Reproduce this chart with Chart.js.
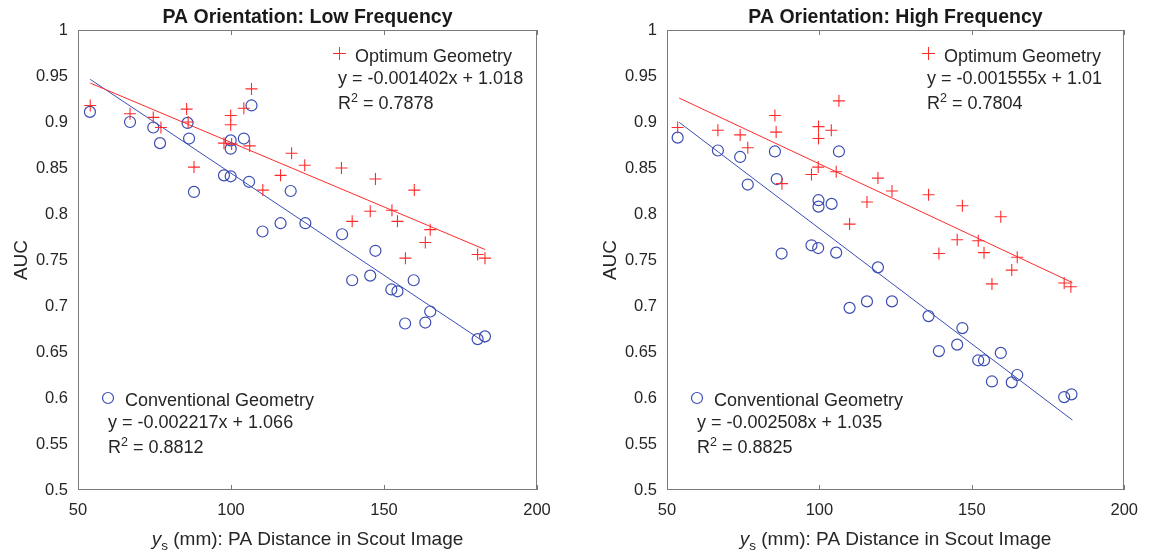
<!DOCTYPE html>
<html><head><meta charset="utf-8">
<script src="https://cdn.jsdelivr.net/npm/chart.js@4.4.0/dist/chart.umd.min.js"></script>
<style>
html,body{margin:0;padding:0;background:#fff;overflow:hidden;width:1149px;height:557px}
canvas{position:absolute;top:0}
#cl{left:0}
#cr{left:575px}
</style>
</head><body>
<canvas id="cl" width="575" height="557" style="width:575px;height:557px"></canvas>
<canvas id="cr" width="574" height="557" style="width:574px;height:557px"></canvas>
<script>
// ---------- data ----------
const xTicks = [50, 100, 150, 200];
const xTickLabels = ['50', '100', '150', '200'];
const yTicks = [0.5, 0.55, 0.6, 0.65, 0.7, 0.75, 0.8, 0.85, 0.9, 0.95, 1];
const yTickLabels = ['0.5', '0.55', '0.6', '0.65', '0.7', '0.75', '0.8', '0.85', '0.9', '0.95', '1'];

// Low frequency – Optimum geometry (+)
const lowOptX = [54, 67, 74.6, 77.1, 85.5, 86, 87.9, 97.7, 99.9, 99.9, 100.2, 104.2, 106.1, 106.7, 110.4, 116.2, 119.8, 124.1, 136.1, 139.6, 145.5, 147.2, 152.6, 154.4, 157, 159.9, 163.5, 165.1, 180.6, 183];
const lowOptY = [0.918, 0.909, 0.905, 0.894, 0.914, 0.900, 0.851, 0.877, 0.907, 0.897, 0.876, 0.915, 0.874, 0.936, 0.826, 0.842, 0.866, 0.853, 0.850, 0.792, 0.803, 0.838, 0.804, 0.792, 0.752, 0.826, 0.769, 0.783, 0.756, 0.752];
// Low frequency – Conventional geometry (o)
const lowConvX = [53.9, 67.0, 74.6, 76.8, 85.8, 86.3, 87.9, 97.7, 99.9, 99.9, 99.9, 104.2, 106.7, 105.9, 110.3, 116.2, 119.5, 124.3, 136.3, 147.2, 139.6, 145.5, 152.4, 154.4, 159.7, 165.1, 156.9, 163.5, 180.6, 183];
const lowConvY = [0.911, 0.900, 0.894, 0.877, 0.899, 0.882, 0.824, 0.842, 0.841, 0.880, 0.871, 0.882, 0.918, 0.835, 0.781, 0.790, 0.825, 0.790, 0.778, 0.760, 0.728, 0.733, 0.718, 0.716, 0.728, 0.694, 0.681, 0.682, 0.664, 0.667];
// Low frequency – fitted lines (end points of the printed equations)
const lowOptFitX = [54, 183];
const lowOptFitY = [0.9423, 0.7614];
const lowConvFitX = [54, 183];
const lowConvFitY = [0.9463, 0.6603];

// High frequency – Optimum geometry (+)
const highOptX = [53.5, 66.7, 74.0, 76.5, 85.4, 85.8, 87.7, 97.4, 99.6, 99.7, 99.7, 103.9, 106.4, 105.5, 109.9, 115.6, 119.2, 123.8, 135.8, 146.9, 159.5, 139.2, 145.2, 152.1, 154.0, 156.6, 164.9, 163.1, 180.3, 182.5];
const highOptY = [0.894, 0.891, 0.886, 0.872, 0.907, 0.889, 0.833, 0.843, 0.851, 0.895, 0.882, 0.891, 0.923, 0.846, 0.789, 0.813, 0.839, 0.825, 0.821, 0.809, 0.797, 0.757, 0.772, 0.771, 0.758, 0.724, 0.753, 0.739, 0.725, 0.721];
// High frequency – Conventional geometry (o)
const highConvX = [53.5, 66.7, 74.0, 76.5, 85.4, 86.0, 99.7, 99.7, 104.0, 106.4, 87.6, 97.4, 99.6, 105.5, 109.9, 115.6, 119.2, 123.8, 135.8, 139.2, 145.2, 146.9, 152.1, 154.0, 159.5, 156.6, 164.9, 163.1, 180.3, 182.7];
const highConvY = [0.883, 0.869, 0.862, 0.832, 0.868, 0.838, 0.815, 0.808, 0.811, 0.868, 0.757, 0.766, 0.763, 0.758, 0.698, 0.705, 0.742, 0.705, 0.689, 0.651, 0.658, 0.676, 0.641, 0.641, 0.649, 0.618, 0.625, 0.617, 0.601, 0.604];
const highOptFitX = [54, 183];
const highOptFitY = [0.9260, 0.7254];
const highConvFitX = [54, 183];
const highConvFitY = [0.8996, 0.5760];

// ---------- styling ----------
const FONT = '"Liberation Sans", Arial, Helvetica, sans-serif';
const RED = '#ff2b2b';
const BLUE = '#3b4db3';
const TXT = '#262626';
const AXIS = '#7a7a7a';

function zip(xs, ys) { return xs.map((x, i) => ({ x: x, y: ys[i] })); }

const decor = {
  id: 'decor',
  afterDraw(chart, args, o) {
    const ctx = chart.ctx, a = chart.chartArea, xs = chart.scales.x;
    ctx.save();
    const L = Math.round(a.left), T = Math.round(a.top), R = Math.round(a.right), B = Math.round(a.bottom);
    // box
    ctx.strokeStyle = AXIS; ctx.lineWidth = 1;
    ctx.strokeRect(L + 0.5, T + 0.5, R - L - 1, B - T - 1);
    // inward x ticks, top and bottom
    ctx.beginPath();
    xTicks.forEach(v => {
      const px = Math.round(xs.getPixelForValue(v)) + 0.5;
      ctx.moveTo(px, B); ctx.lineTo(px, B - 5);
      ctx.moveTo(px, T); ctx.lineTo(px, T + 5);
    });
    ctx.stroke();

    const cx = (L + R) / 2;
    // title
    ctx.fillStyle = '#1a1a1a';
    ctx.font = 'bold 19.5px ' + FONT;
    ctx.textAlign = 'center'; ctx.textBaseline = 'alphabetic';
    ctx.fillText(o.title, cx, 23);

    // y axis title
    ctx.fillStyle = TXT;
    ctx.save();
    ctx.translate(L - 56, (T + B) / 2);
    ctx.rotate(-Math.PI / 2);
    ctx.font = '19px ' + FONT;
    ctx.textAlign = 'center'; ctx.textBaseline = 'middle';
    ctx.fillText('AUC', 0, 0);
    ctx.restore();

    // x axis title: italic y, subscript s, rest
    ctx.textAlign = 'left'; ctx.textBaseline = 'alphabetic';
    const fMain = '19px ' + FONT, fIt = 'italic 19px ' + FONT, fSub = '13.5px ' + FONT;
    const rest = ' (mm): PA Distance in Scout Image';
    ctx.font = fIt; const wy = ctx.measureText('y').width;
    ctx.font = fSub; const ws = ctx.measureText('s').width;
    ctx.font = fMain; const wr = ctx.measureText(rest).width;
    let sx = cx - (wy + ws + wr) / 2;
    const by = 545;
    ctx.font = fIt; ctx.fillText('y', sx, by); sx += wy;
    ctx.font = fSub; ctx.fillText('s', sx, by + 5); sx += ws;
    ctx.font = fMain; ctx.fillText(rest, sx, by);

    // annotations
    function rsq(x, y, val) {
      ctx.font = '18px ' + FONT; ctx.fillStyle = TXT;
      ctx.fillText('R', x, y);
      const w = ctx.measureText('R').width;
      ctx.font = '12.5px ' + FONT;
      ctx.fillText('2', x + w, y - 7.5);
      const w2 = ctx.measureText('2').width;
      ctx.font = '18px ' + FONT;
      ctx.fillText(' = ' + val, x + w + w2, y);
    }
    // optimum block
    ctx.strokeStyle = RED; ctx.lineWidth = 1;
    ctx.beginPath();
    ctx.moveTo(L + 255, 53.5); ctx.lineTo(L + 268, 53.5);
    ctx.moveTo(L + 261.5, 47); ctx.lineTo(L + 261.5, 60);
    ctx.stroke();
    ctx.font = '18px ' + FONT; ctx.fillStyle = TXT;
    ctx.fillText('Optimum Geometry', L + 277, 61.5);
    ctx.fillText(o.optEq, L + 260, 83.5);
    rsq(L + 260, 109, o.optR2);
    // conventional block
    ctx.strokeStyle = BLUE; ctx.lineWidth = 1.2;
    ctx.beginPath(); ctx.arc(L + 30, 398, 5.5, 0, Math.PI * 2); ctx.stroke();
    ctx.font = '18px ' + FONT; ctx.fillStyle = TXT;
    ctx.fillText('Conventional Geometry', L + 47, 405.5);
    ctx.fillText(o.convEq, L + 30, 428);
    rsq(L + 30, 453, o.convR2);
    ctx.restore();
  }
};

function makeChart(id, c) {
  return new Chart(document.getElementById(id), {
    type: 'scatter',
    data: {
      datasets: [
        { data: zip(c.optX, c.optY), pointStyle: 'cross', pointRadius: 6, pointHoverRadius: 6,
          borderColor: RED, backgroundColor: RED, borderWidth: 1.1 },
        { data: zip(c.convX, c.convY), pointStyle: 'circle', pointRadius: 5.5, pointHoverRadius: 5.5,
          borderColor: BLUE, backgroundColor: 'rgba(0,0,0,0)', borderWidth: 1.2 },
        { data: zip(c.optFitX, c.optFitY), showLine: true, pointRadius: 0, borderColor: RED, borderWidth: 1, fill: false },
        { data: zip(c.convFitX, c.convFitY), showLine: true, pointRadius: 0, borderColor: BLUE, borderWidth: 1, fill: false }
      ]
    },
    options: {
      responsive: false, animation: false, devicePixelRatio: 1, events: [],
      layout: { padding: { top: 30, right: c.padRight, left: 0, bottom: 0 } },
      plugins: { legend: { display: false }, tooltip: { enabled: false }, title: { display: false }, decor: c.text },
      scales: {
        x: {
          type: 'linear', min: 50, max: 200,
          afterFit: s => { s.height = 67; },
          afterBuildTicks: s => { s.ticks = xTicks.map(v => ({ value: v })); },
          ticks: { callback: (v, i) => xTickLabels[i], font: { family: FONT, size: 16.5 }, color: TXT,
                   padding: 11, maxRotation: 0, autoSkip: false },
          grid: { display: false, drawTicks: false }, border: { display: false }
        },
        y: {
          type: 'linear', min: 0.5, max: 1,
          afterFit: s => { s.width = c.leftW; },
          afterBuildTicks: s => { s.ticks = yTicks.map(v => ({ value: v })); },
          ticks: { callback: (v, i) => yTickLabels[i], font: { family: FONT, size: 16.5 }, color: TXT,
                   padding: 10, autoSkip: false },
          grid: { display: false, drawTicks: false }, border: { display: false }
        }
      }
    },
    plugins: [decor]
  });
}

makeChart('cl', {
  optX: lowOptX, optY: lowOptY, convX: lowConvX, convY: lowConvY,
  optFitX: lowOptFitX, optFitY: lowOptFitY, convFitX: lowConvFitX, convFitY: lowConvFitY,
  leftW: 78, padRight: 38,
  text: { title: 'PA Orientation: Low Frequency',
          optEq: 'y = -0.001402x + 1.018', optR2: '0.7878',
          convEq: 'y = -0.002217x + 1.066', convR2: '0.8812' }
});
makeChart('cr', {
  optX: highOptX, optY: highOptY, convX: highConvX, convY: highConvY,
  optFitX: highOptFitX, optFitY: highOptFitY, convFitX: highConvFitX, convFitY: highConvFitY,
  leftW: 92, padRight: 22,
  text: { title: 'PA Orientation: High Frequency',
          optEq: 'y = -0.001555x + 1.01', optR2: '0.7804',
          convEq: 'y = -0.002508x + 1.035', convR2: '0.8825' }
});
</script>
</body></html>
